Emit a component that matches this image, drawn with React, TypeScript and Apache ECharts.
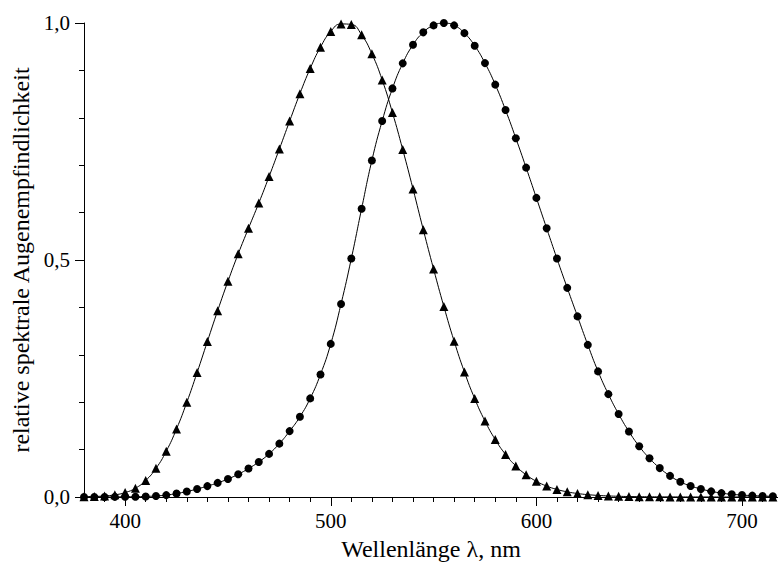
import React, { useEffect, useRef } from "react";
import * as echarts from "echarts";

// Wavelengths in nm (5 nm steps)
const wavelengths = [
  380, 385, 390, 395, 400, 405, 410, 415, 420, 425, 430, 435, 440, 445, 450, 455,
  460, 465, 470, 475, 480, 485, 490, 495, 500, 505, 510, 515, 520, 525, 530, 535,
  540, 545, 550, 555, 560, 565, 570, 575, 580, 585, 590, 595, 600, 605, 610, 615,
  620, 625, 630, 635, 640, 645, 650, 655, 660, 665, 670, 675, 680, 685, 690, 695,
  700, 705, 710, 715,
];

// Photopic relative sensitivity (circles)
const photopic = [
  0.000039, 0.000064, 0.00012, 0.000217, 0.000396, 0.00064, 0.00121, 0.00218,
  0.004, 0.0073, 0.0116, 0.01684, 0.023, 0.0298, 0.038, 0.048,
  0.06, 0.0739, 0.09098, 0.1126, 0.13902, 0.1693, 0.20802, 0.2586,
  0.323, 0.4073, 0.503, 0.6082, 0.71, 0.7932, 0.862, 0.91485,
  0.954, 0.9803, 0.99495, 1.0, 0.995, 0.9786, 0.952, 0.9154,
  0.87, 0.8163, 0.757, 0.6949, 0.631, 0.5668, 0.503, 0.4412,
  0.381, 0.321, 0.265, 0.217, 0.175, 0.1382, 0.107, 0.0816,
  0.061, 0.04458, 0.032, 0.0232, 0.017, 0.01192, 0.00821, 0.005723,
  0.004102, 0.002929, 0.002091, 0.001484,
];

// Scotopic relative sensitivity (triangles)
const scotopic = [
  0.000589, 0.001108, 0.002209, 0.00453, 0.00929, 0.01852, 0.03484, 0.0604,
  0.0966, 0.1436, 0.1998, 0.2625, 0.3281, 0.3931, 0.455, 0.513,
  0.567, 0.62, 0.676, 0.734, 0.793, 0.851, 0.904, 0.949,
  0.982, 0.998, 0.997, 0.975, 0.935, 0.88, 0.811, 0.733,
  0.65, 0.564, 0.481, 0.402, 0.3288, 0.2639, 0.2076, 0.1602,
  0.1212, 0.0899, 0.0655, 0.0469, 0.03315, 0.02312, 0.01593, 0.01088,
  0.00737, 0.00497, 0.003335, 0.002235, 0.001497, 0.001005, 0.000677, 0.000459,
  0.000313, 0.000215, 0.000148, 0.000103, 0.0000715, 0.0000501, 0.0000353, 0.000025,
  0.0000178, 0.0000127, 0.0000091, 0.0000066,
];

const majorTicksX = [400, 500, 600, 700];
const minorTicksX = [
  390, 410, 420, 430, 440, 450, 460, 470, 480, 490, 510, 520, 530, 540, 550, 560,
  570, 580, 590, 610, 620, 630, 640, 650, 660, 670, 680, 690, 710,
];

const FONT = "'Liberation Serif', 'Times New Roman', serif";

export default function App() {
  const ref = useRef<HTMLDivElement>(null);

  useEffect(() => {
    if (!ref.current) return;
    const chart = echarts.init(ref.current, null, { renderer: "svg" });
    const axisColor = "#000";
    chart.setOption({
      animation: false,
      backgroundColor: "#fff",
      grid: { left: 84, right: 0, top: 23, bottom: 66 },
      xAxis: [
        {
          type: "value",
          min: 380,
          max: 717.5,
          position: "bottom",
          axisLine: { show: true, onZero: false, lineStyle: { color: axisColor, width: 1 } },
          axisTick: {
            show: true,
            length: 9,
            customValues: majorTicksX,
            lineStyle: { color: axisColor, width: 1 },
          },
          axisLabel: {
            customValues: majorTicksX,
            fontSize: 21,
            fontFamily: FONT,
            color: "#000",
            margin: 13,
          },
          splitLine: { show: false },
          name: "Wellenlänge λ, nm",
          nameLocation: "middle",
          nameGap: 40,
          nameTextStyle: { fontSize: 24, fontFamily: FONT, color: "#000" },
        },
        {
          type: "value",
          min: 380,
          max: 717.5,
          position: "bottom",
          axisLine: { show: false },
          axisTick: {
            show: true,
            length: 5,
            customValues: minorTicksX,
            lineStyle: { color: axisColor, width: 1 },
          },
          axisLabel: { show: false },
          splitLine: { show: false },
        },
      ],
      yAxis: {
        type: "value",
        min: 0,
        max: 1,
        interval: 0.5,
        axisLine: { show: true, onZero: false, lineStyle: { color: axisColor, width: 1 } },
        axisTick: { show: true, length: 9, lineStyle: { color: axisColor, width: 1 } },
        minorTick: { show: true, splitNumber: 5, length: 5, lineStyle: { color: axisColor, width: 1 } },
        axisLabel: {
          fontSize: 21,
          fontFamily: FONT,
          color: "#000",
          margin: 14,
          formatter: (v: number) => v.toFixed(1).replace(".", ","),
        },
        splitLine: { show: false },
        minorSplitLine: { show: false },
        name: "relative spektrale Augenempfindlichkeit",
        nameLocation: "middle",
        nameGap: 38,
        nameTextStyle: { fontSize: 24, fontFamily: FONT, color: "#000" },
      },
      series: [
        {
          type: "line",
          xAxisIndex: 0,
          data: wavelengths.map((w, i) => [w, photopic[i]]),
          symbol: "circle",
          symbolSize: 8,
          showAllSymbol: true,
          smooth: true,
          lineStyle: { color: "#000", width: 1 },
          itemStyle: { color: "#000" },
        },
        {
          type: "line",
          xAxisIndex: 0,
          data: wavelengths.map((w, i) => [w, scotopic[i]]),
          symbol: "triangle",
          symbolSize: 9,
          showAllSymbol: true,
          smooth: true,
          lineStyle: { color: "#000", width: 1 },
          itemStyle: { color: "#000" },
        },
      ],
    });
    return () => chart.dispose();
  }, []);

  return (
    <div
      ref={ref}
      style={{ position: "absolute", left: 0, top: 0, width: 778, height: 566, background: "#fff" }}
    />
  );
}
